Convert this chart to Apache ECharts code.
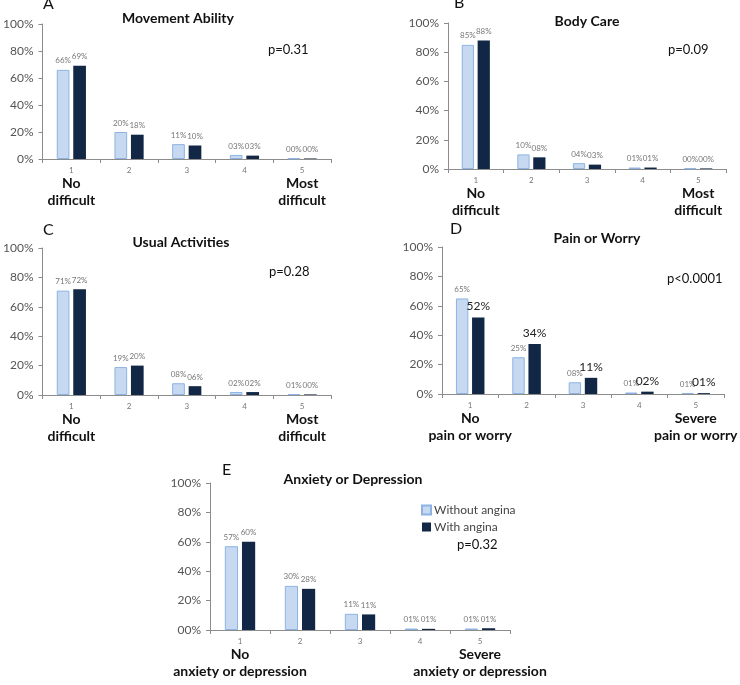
<!doctype html>
<html>
<head>
<meta charset="UTF-8">
<title>EQ-5D by angina</title>
<script src="https://cdn.jsdelivr.net/npm/echarts@6/dist/echarts.min.js"></script>
<style>
  html, body { margin: 0; padding: 0; background: #fff; }
  #main { width: 740px; height: 685px; }
</style>
</head>
<body>
<div id="main"></div>
<script type="text/javascript">
// categories (1 = no problem ... 5 = most severe)
var cats = ['1', '2', '3', '4', '5'];
var seriesNames = ['Without angina', 'With angina'];
var yTicks = ['0%', '20%', '40%', '60%', '80%', '100%'];
var yTicksE = ['00%', '20%', '40%', '60%', '80%', '100%'];

// panel text
var letters = ['A', 'B', 'C', 'D', 'E'];
var titles = ['Movement Ability', 'Body Care', 'Usual Activities', 'Pain or Worry', 'Anxiety or Depression'];
var pvals = ['p=0.31', 'p=0.09', 'p=0.28', 'p<0.0001', 'p=0.32'];
var lowEnds = ['No\ndifficult', 'No\ndifficult', 'No\ndifficult', 'No\npain or worry', 'No\nanxiety or depression'];
var highEnds = ['Most\ndifficult', 'Most\ndifficult', 'Most\ndifficult', 'Severe\npain or worry', 'Severe\nanxiety or depression'];

// percentages
var withoutA = [66, 20, 11, 3, 0.4];
var withA    = [69, 18, 10, 2.5, 0.4];
var withoutB = [85, 10, 4, 1, 0.4];
var withB    = [88, 8, 3, 1, 0.4];
var withoutC = [71, 19, 8, 2, 0.6];
var withC    = [72, 20, 6, 2, 0.4];
var withoutD = [65, 25, 8, 1, 0.7];
var withD    = [52, 34, 11, 1.6, 0.6];
var withoutE = [57, 30, 11, 1, 1];
var withE    = [60, 28, 10.6, 0.8, 1.2];

var withoutAll = [withoutA, withoutB, withoutC, withoutD, withoutE];
var withAll = [withA, withB, withC, withD, withE];

// layout of each panel's plot area
var grids = [
  {left: 42, top: 24, width: 289, height: 135},
  {left: 448, top: 23, width: 278, height: 146},
  {left: 40, top: 248, width: 291, height: 147},
  {left: 442, top: 247, width: 287, height: 147},
  {left: 210, top: 483, width: 300, height: 147}
];

var FONT = 'Lato, "Liberation Sans", sans-serif';
var LIGHT = '#c6d9f1';
var LIGHT_EDGE = '#8db3e2';
var DARK = '#112745';

function pct(v) {
  var s = String(Math.round(v));
  if (s.length < 2) s = '0' + s;
  return s + '%';
}

var xAxes = [], yAxes = [], series = [], graphics = [];

for (var i = 0; i < 5; i++) {
  (function (i) {
    xAxes.push({
      type: 'category', gridIndex: i, data: cats,
      axisLine: {lineStyle: {color: '#8c8c8c', width: 1}},
      axisTick: {show: true, length: 4, lineStyle: {color: '#8c8c8c'}},
      axisLabel: {
        margin: 6, interval: 0,
        formatter: function (v, idx) {
          if (idx === 0) return '{n|' + v + '}\n' + lowEnds[i].split('\n').map(function (t) { return '{b|' + t + '}'; }).join('\n');
          if (idx === 4) return '{n|' + v + '}\n' + highEnds[i].split('\n').map(function (t) { return '{b|' + t + '}'; }).join('\n');
          return '{n|' + v + '}';
        },
        rich: {
          n: {fontSize: 8, color: '#777', lineHeight: 10, fontFamily: FONT},
          b: {fontSize: 14, fontWeight: 'bold', color: '#111', lineHeight: 17, fontFamily: FONT}
        }
      }
    });
    var ticks = i === 4 ? yTicksE : yTicks;
    yAxes.push({
      type: 'value', gridIndex: i, min: 0, max: 100, interval: 20,
      splitLine: {show: false},
      axisLine: {show: true, lineStyle: {color: '#8c8c8c', width: 1}},
      axisTick: {show: true, length: 4, lineStyle: {color: '#8c8c8c'}},
      axisLabel: {
        margin: 9, fontSize: 12, color: '#555', fontFamily: FONT,
        formatter: function (v) { return ticks[Math.round(v / 20)]; }
      }
    });
    var big = (i === 3);
    series.push({
      name: seriesNames[0], type: 'bar', xAxisIndex: i, yAxisIndex: i,
      data: withoutAll[i], barWidth: '22%', barGap: '30%',
      itemStyle: {color: LIGHT, borderColor: LIGHT_EDGE, borderWidth: 1},
      label: {show: true, position: 'top', distance: 5, fontSize: 8, color: '#777', fontFamily: FONT,
        formatter: function (p) { return pct(p.value); }}
    });
    series.push({
      name: seriesNames[1], type: 'bar', xAxisIndex: i, yAxisIndex: i,
      data: withAll[i], barWidth: '22%', barGap: '30%',
      itemStyle: {color: DARK},
      label: {show: true, position: 'top', distance: 5,
        fontSize: big ? 12 : 8, color: big ? '#222' : '#777', fontFamily: FONT,
        formatter: function (p) { return pct(p.value); }}
    });
  })(i);
}

// panel letters, titles, p-values
var letterPos = [[43, 12], [454, 11], [43, 238], [450, 237], [222, 478]];
var titlePos = [[178, 18], [587, 21], [181, 242], [597, 238], [353, 479]];
var pPos = [[268, 50], [668, 50], [269, 272], [667, 279], [457, 545]];
for (var k = 0; k < 5; k++) {
  graphics.push({type: 'text', x: letterPos[k][0], y: letterPos[k][1],
    style: {text: letters[k], font: '16px ' + FONT, fill: '#111', textVerticalAlign: 'bottom'}});
  graphics.push({type: 'text', x: titlePos[k][0], y: titlePos[k][1],
    style: {text: titles[k], font: 'bold 14px ' + FONT, fill: '#111', textAlign: 'center', textVerticalAlign: 'middle'}});
  graphics.push({type: 'text', x: pPos[k][0], y: pPos[k][1],
    style: {text: pvals[k], font: '13px ' + FONT, fill: '#111', textVerticalAlign: 'middle'}});
}

var chart = echarts.init(document.getElementById('main'));
chart.setOption({
  animation: false,
  backgroundColor: '#fff',
  grid: grids,
  xAxis: xAxes,
  yAxis: yAxes,
  legend: {
    data: seriesNames, orient: 'vertical', left: 421, top: 504, padding: 0,
    itemWidth: 9, itemHeight: 9, itemGap: 5, icon: 'rect',
    textStyle: {fontSize: 12, color: '#444', fontFamily: FONT, padding: [0, 0, 0, -2]}
  },
  series: series,
  graphic: graphics
});
</script>
</body>
</html>
